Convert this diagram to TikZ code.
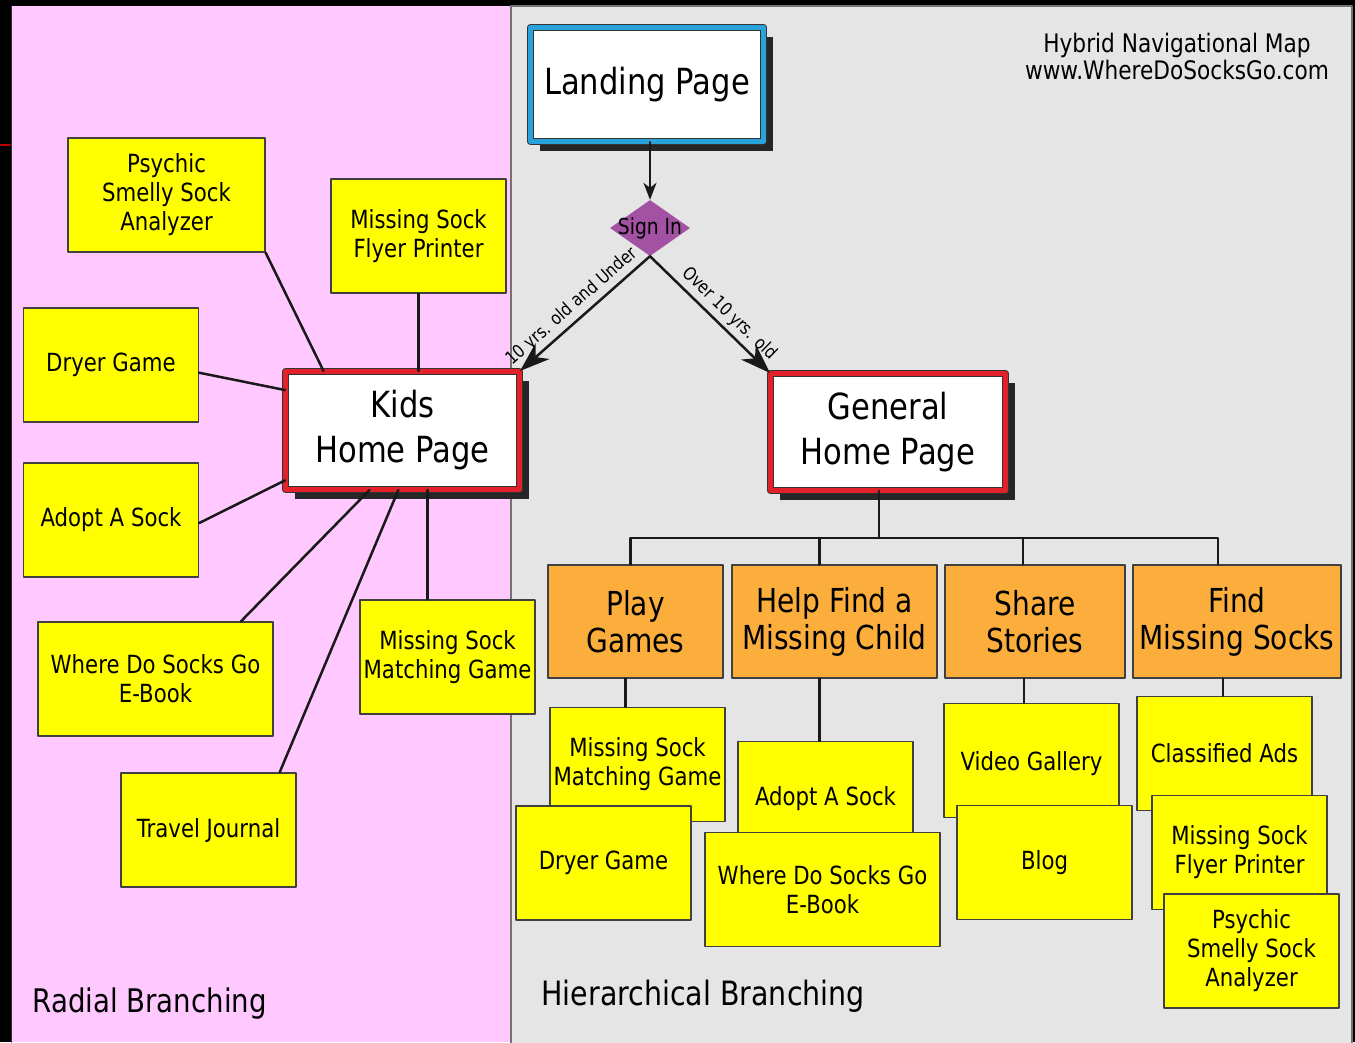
\documentclass[tikz,border=0pt]{standalone}
\usepackage{fontspec}
\setmainfont{DejaVu Sans}[FakeStretch=0.85]
\usetikzlibrary{shapes.geometric,shadows,arrows.meta}
\definecolor{panelpink}{HTML}{FFC8FF}
\definecolor{panelgray}{HTML}{E5E5E5}
\definecolor{leafyellow}{HTML}{FFFF00}
\definecolor{taborange}{HTML}{FBAE3B}
\definecolor{homered}{HTML}{E3212B}
\definecolor{landblue}{HTML}{2AA3DC}
\definecolor{signpurple}{HTML}{A352A3}
\begin{document}
\begin{tikzpicture}[x=1pt, y=-1pt, line join=round, line cap=round,
    leaf/.style={draw=black!75, fill=leafyellow, line width=1.2pt, minimum width=175pt, minimum height=114pt, inner sep=1pt, align=center, font=\fontsize{25}{29}\selectfont},
    tab/.style={draw=black!75, fill=taborange, line width=1.2pt, minimum height=113pt, inner sep=1pt, align=center, font=\fontsize{33}{37}\selectfont},
    home/.style={draw=black!80, line width=1pt, double=homered, double distance=5pt, fill=white, minimum width=234pt, minimum height=118pt, align=center, font=\fontsize{36}{45}\selectfont, drop shadow={shadow xshift=9pt, shadow yshift=-9pt, fill=black!85, opacity=1}},
    link/.style={draw=black!90, line width=2.5pt},
    branch/.style={font=\fontsize{18}{18}\selectfont, inner sep=4pt}]
			\useasboundingbox (0,0) rectangle (1355,1042);
			% panels
			\fill[black] (0,0) rectangle (1355,1042);
			\fill[panelpink] (11,6) rectangle (511,1042);
			\draw[black!80!white, line width=1pt] (11.5,6) -- (11.5,1042);
			\draw[black!55, fill=panelgray, line width=1.5pt] (511,6) rectangle (1352,1044);
			\draw[red!75!black, line width=2pt] (0,145) -- (10,145);
			\node[align=center, font=\fontsize{25.5}{27}\selectfont] (title) at (1177,56) {Hybrid Navigational Map\\www.WhereDoSocksGo.com};
			\node[anchor=west, font=\fontsize{32.5}{32}\selectfont] (radial) at (29,1004) {Radial Branching};
			\node[anchor=west, font=\fontsize{33.5}{32}\selectfont] (hier) at (538,996) {Hierarchical Branching};
			% top
			\node[home, double=landblue, minimum width=233pt, minimum height=114pt, font=\fontsize{36}{40}\selectfont] (landing) at (647,84.5) {Landing Page};
			\node[diamond, fill=signpurple, minimum width=80pt, minimum height=56pt, inner sep=0pt, label={[font=\fontsize{22}{24}\selectfont]center:Sign In}] (signin) at (650,228) {};
			\node[home] (kids) at (402.5,430.5) {Kids\\Home Page};
			\node[home, minimum width=235pt, minimum height=117pt] (general) at (888,432) {General\\Home Page};
			% radial side
			\node[leaf, minimum width=197pt] (rpsy) at (166.5,195) {Psychic\\Smelly Sock\\Analyzer};
			\node[leaf] (rflyer) at (418.5,236) {Missing Sock\\Flyer Printer};
			\node[leaf] (rdryer) at (111,365) {Dryer Game};
			\node[leaf] (radopt) at (111,520) {Adopt A Sock};
			\node[leaf, minimum width=235pt] (rebook) at (155.5,679) {Where Do Socks Go\\E-Book};
			\node[leaf] (rmatch) at (447.5,657) {Missing Sock\\Matching Game};
			\node[leaf] (rtravel) at (208.5,830) {Travel Journal};
			% hierarchical side
			\node[tab, minimum width=175pt] (play) at (635.5,621.5) {Play\\Games};
			\node[tab, minimum width=205pt] (help) at (834.5,621.5) {Help Find a\\Missing Child};
			\node[tab, minimum width=180pt] (share) at (1035,621.5) {Share\\Stories};
			\node[tab, minimum width=208pt] (find) at (1237,621.5) {Find\\Missing Socks};
			\node[leaf] (hmatch) at (637.5,764.5) {Missing Sock\\Matching Game};
			\node[leaf] (hdryer) at (603.5,863) {Dryer Game};
			\node[leaf] (hadopt) at (825.5,798.5) {Adopt A Sock};
			\node[leaf, minimum width=235pt] (hebook) at (822.5,889.5) {Where Do Socks Go\\E-Book};
			\node[leaf, text depth=-14pt] (hvideo) at (1031.5,760.5) {Video Gallery};
			\node[leaf] (hblog) at (1044.5,862.5) {Blog};
			\node[leaf] (hads) at (1224.5,753.5) {Classified Ads};
			\node[leaf] (hflyer) at (1239.5,852.5) {Missing Sock\\Flyer Printer};
			\node[leaf] (hpsy) at (1251.5,951) {Psychic\\Smelly Sock\\Analyzer};
			% arrows
			\draw[link, line width=2pt, -{Stealth[length=17pt, width=13pt, inset=5pt]}] (signin.north |- landing.south) -- (signin.north);
			\draw[link, -{Stealth[length=30pt, width=21pt, inset=9pt]}] (signin.south) -- node[branch, pos=0.53, sloped, above] {10 yrs. old and Under} (kids.north east);
			\draw[link, -{Stealth[length=30pt, width=21pt, inset=9pt]}] (signin.south) -- node[branch, pos=0.58, sloped, above] {Over 10 yrs. old} (general.north west);
			% radial links
			\draw[link] (rpsy.south east) -- (kids.143);
			\draw[link] (rflyer.south) -- (rflyer.south |- kids.north);
			\draw[link] (rdryer.-5) -- (kids.161);
			\draw[link] (radopt.-2) -- (kids.203);
			\draw[link] (rebook.34) -- (kids.241);
			\draw[link] (rtravel.39) -- (kids.266);
			\draw[link] ([xshift=-20pt]rmatch.north) -- ([xshift=-20pt]rmatch.north |- kids.south);
			% tree links
			\coordinate (bus) at (879,538);
			\draw[link] (bus |- general.south) -- (bus);
			\draw[link] ([xshift=-5pt]play.north) |- (bus) -| ([xshift=-19pt]find.north);
			\draw[link] ([xshift=-15pt]help.north) -- ([xshift=-15pt]help.north |- bus);
			\draw[link] ([xshift=-12pt]share.north) -- ([xshift=-12pt]share.north |- bus);
			\draw[link] ([xshift=-10pt]play.south) -- ([xshift=-10pt]play.south |- hmatch.north);
			\draw[link] ([xshift=-15pt]help.south) -- ([xshift=-15pt]help.south |- hadopt.north);
			\draw[link] ([xshift=-11pt]share.south) -- ([xshift=-11pt]share.south |- hvideo.north);
			\draw[link] ([xshift=-14pt]find.south) -- ([xshift=-14pt]find.south |- hads.north);
\end{tikzpicture}
\end{document}
